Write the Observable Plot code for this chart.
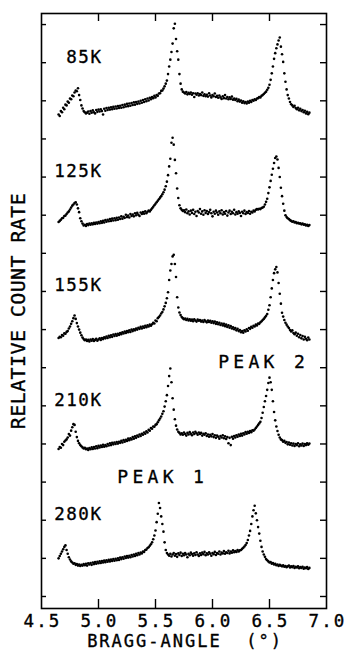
<!DOCTYPE html>
<html>
<head>
<meta charset="utf-8">
<script src="https://cdn.jsdelivr.net/npm/d3@7"></script>
<script src="https://cdn.jsdelivr.net/npm/@observablehq/plot@0.6"></script>
<style>
  html, body { margin: 0; padding: 0; background: #fff; }
  #chart svg { display: block; }
  #chart text { white-space: pre; }
</style>
</head>
<body>
<div id="chart"></div>
<script>
// Bragg angle scan grid (degrees)
const angles = [
4.65,4.66,4.67,4.68,4.69,4.70,4.71,4.72,4.73,4.74,
4.75,4.76,4.77,4.78,4.79,4.80,4.81,4.82,4.83,4.84,
4.85,4.86,4.87,4.88,4.89,4.90,4.91,4.92,4.93,4.94,
4.95,4.96,4.97,4.98,4.99,5.00,5.01,5.02,5.03,5.04,
5.05,5.06,5.07,5.08,5.09,5.10,5.11,5.12,5.13,5.14,
5.15,5.16,5.17,5.18,5.19,5.20,5.21,5.22,5.23,5.24,
5.25,5.26,5.27,5.28,5.29,5.30,5.31,5.32,5.33,5.34,
5.35,5.36,5.37,5.38,5.39,5.40,5.41,5.42,5.43,5.44,
5.45,5.46,5.47,5.48,5.49,5.50,5.51,5.52,5.53,5.54,
5.55,5.56,5.57,5.58,5.59,5.60,5.61,5.62,5.63,5.64,
5.65,5.66,5.67,5.68,5.69,5.70,5.71,5.72,5.73,5.74,
5.75,5.76,5.77,5.78,5.79,5.80,5.81,5.82,5.83,5.84,
5.85,5.86,5.87,5.88,5.89,5.90,5.91,5.92,5.93,5.94,
5.95,5.96,5.97,5.98,5.99,6.00,6.01,6.02,6.03,6.04,
6.05,6.06,6.07,6.08,6.09,6.10,6.11,6.12,6.13,6.14,
6.15,6.16,6.17,6.18,6.19,6.20,6.21,6.22,6.23,6.24,
6.25,6.26,6.27,6.28,6.29,6.30,6.31,6.32,6.33,6.34,
6.35,6.36,6.37,6.38,6.39,6.40,6.41,6.42,6.43,6.44,
6.45,6.46,6.47,6.48,6.49,6.50,6.51,6.52,6.53,6.54,
6.55,6.56,6.57,6.58,6.59,6.60,6.61,6.62,6.63,6.64,
6.65,6.66,6.67,6.68,6.69,6.70,6.71,6.72,6.73,6.74,
6.75,6.76,6.77,6.78,6.79,6.80,6.81,6.82,6.83,6.84,
6.85];

// Relative count rate (above each curve's own baseline level)
const rate85K = [
-0.36,-0.40,-0.27,-0.30,-0.18,-0.22,-0.10,-0.12,-0.02,-0.05,
0.06,0.04,0.14,0.12,0.22,0.27,0.25,0.33,0.15,0.02,
-0.12,-0.20,-0.27,-0.30,-0.33,-0.31,-0.28,-0.34,-0.27,-0.31,
-0.25,-0.30,-0.33,-0.24,-0.29,-0.23,-0.28,-0.22,-0.27,-0.36,
-0.21,-0.26,-0.19,-0.24,-0.18,-0.23,-0.17,-0.22,-0.16,-0.21,
-0.15,-0.20,-0.14,-0.19,-0.13,-0.18,-0.11,-0.17,-0.10,-0.15,
-0.08,-0.14,-0.07,-0.13,-0.06,-0.11,-0.04,-0.10,-0.03,-0.08,
-0.02,-0.07,0.00,-0.05,0.02,-0.03,0.04,-0.01,0.06,0.01,
0.08,0.04,0.10,0.07,0.13,0.09,0.15,0.13,0.19,0.20,
0.26,0.27,0.32,0.38,0.45,0.53,0.70,0.90,1.08,1.28,
1.50,1.90,2.02,1.62,1.30,1.08,0.70,0.45,0.30,0.24,
0.22,0.19,0.23,0.17,0.21,0.18,0.22,0.16,0.20,0.10,
0.19,0.16,0.20,0.14,0.18,0.15,0.22,0.13,0.17,0.12,
0.16,0.11,0.20,0.14,0.09,0.15,0.12,0.19,0.10,0.13,
0.08,0.14,0.09,0.05,0.12,0.07,0.15,0.06,0.10,0.04,
0.09,0.05,0.11,0.03,0.06,0.02,0.05,-0.01,0.03,-0.02,
0.01,-0.05,-0.01,-0.06,-0.03,-0.07,-0.02,-0.05,0.00,-0.03,
0.02,0.00,0.04,0.02,0.06,0.07,0.10,0.09,0.13,0.15,
0.18,0.21,0.24,0.29,0.34,0.42,0.55,0.72,0.90,1.10,
1.25,1.38,1.48,1.58,1.66,1.42,1.22,1.02,0.72,0.50,
0.30,0.15,0.06,-0.03,-0.09,-0.12,-0.16,-0.13,-0.19,-0.22,
-0.18,-0.25,-0.21,-0.27,-0.24,-0.30,-0.26,-0.33,-0.29,-0.35,
-0.31];

const rate125K = [
-0.18,-0.15,-0.12,-0.08,-0.07,-0.02,-0.01,0.03,0.07,0.10,
0.15,0.20,0.25,0.28,0.32,0.34,0.28,0.18,0.08,-0.08,
-0.16,-0.22,-0.27,-0.25,-0.28,-0.23,-0.26,-0.22,-0.25,-0.21,
-0.24,-0.20,-0.23,-0.19,-0.22,-0.18,-0.21,-0.16,-0.20,-0.15,
-0.19,-0.13,-0.17,-0.12,-0.16,-0.10,-0.15,-0.09,-0.14,-0.08,
-0.13,-0.07,-0.12,-0.06,-0.10,-0.03,-0.09,-0.04,-0.07,0.01,
-0.05,-0.01,-0.06,0.03,-0.02,0.02,-0.03,0.05,0.00,0.06,
0.01,-0.02,0.07,0.03,0.08,0.04,0.10,0.05,0.09,0.12,
0.10,0.14,0.18,0.22,0.26,0.30,0.34,0.38,0.42,0.46,
0.50,0.55,0.60,0.67,0.76,0.88,1.05,1.28,1.48,1.90,
2.03,1.85,1.45,1.10,0.70,0.45,0.26,0.18,0.14,0.11,
0.13,0.08,0.15,0.05,0.10,0.02,0.12,0.06,0.14,0.03,
0.09,-0.02,0.11,0.07,0.16,0.04,0.10,0.01,0.13,0.06,
0.11,0.03,0.08,0.14,0.05,-0.03,0.09,0.04,0.12,0.07,
0.01,0.10,0.05,0.13,0.02,0.08,0.04,0.11,-0.01,0.07,
0.12,0.03,0.09,0.05,0.14,0.02,0.08,0.04,0.10,0.06,
-0.02,0.09,0.05,0.12,0.03,0.08,0.06,0.11,0.04,0.09,
0.07,0.12,0.10,0.14,0.16,0.15,0.17,0.16,0.19,0.20,
0.22,0.28,0.35,0.43,0.58,0.73,0.90,1.06,1.22,1.37,
1.50,1.54,1.46,1.24,1.00,0.72,0.50,0.30,0.12,0.00,
-0.05,-0.08,-0.10,-0.13,-0.15,-0.17,-0.16,-0.19,-0.18,-0.21,
-0.20,-0.22,-0.21,-0.24,-0.22,-0.25,-0.24,-0.27,-0.25,-0.28,
-0.26];

const rate155K = [
-0.22,-0.19,-0.20,-0.14,-0.16,-0.10,-0.11,-0.06,-0.04,0.03,
0.08,0.15,0.22,0.30,0.37,0.28,0.17,0.08,0.00,-0.08,
-0.15,-0.21,-0.25,-0.28,-0.26,-0.30,-0.27,-0.31,-0.26,-0.29,
-0.25,-0.30,-0.27,-0.24,-0.29,-0.26,-0.23,-0.27,-0.22,-0.25,
-0.20,-0.23,-0.18,-0.22,-0.16,-0.20,-0.15,-0.19,-0.13,-0.17,
-0.12,-0.16,-0.11,-0.14,-0.09,-0.12,-0.07,-0.10,-0.05,-0.09,
-0.04,-0.07,-0.02,-0.06,0.00,-0.04,0.01,-0.02,0.03,0.00,
0.05,0.02,0.07,0.03,0.08,0.05,0.10,0.06,0.11,0.08,
0.13,0.10,0.14,0.18,0.16,0.24,0.22,0.30,0.33,0.37,
0.42,0.46,0.53,0.61,0.70,0.82,0.98,1.30,1.55,1.72,
1.92,1.96,1.72,1.38,0.85,0.58,0.45,0.38,0.33,0.30,
0.27,0.29,0.25,0.28,0.24,0.27,0.23,0.26,0.22,0.27,
0.24,0.21,0.26,0.23,0.25,0.21,0.24,0.20,0.25,0.22,
0.19,0.24,0.20,0.23,0.18,0.22,0.17,0.21,0.15,0.19,
0.14,0.18,0.12,0.16,0.11,0.15,0.09,0.13,0.07,0.11,
0.05,0.09,0.03,0.06,0.01,0.04,-0.02,0.02,-0.04,-0.01,
-0.07,-0.04,-0.08,-0.02,-0.05,0.01,-0.03,0.04,0.02,0.07,
0.05,0.10,0.08,0.13,0.11,0.16,0.15,0.19,0.22,0.25,
0.28,0.32,0.36,0.41,0.52,0.64,0.85,1.08,1.30,1.48,
1.58,1.64,1.50,1.22,0.94,0.68,0.44,0.34,0.25,0.18,
0.13,0.08,0.04,-0.01,-0.05,-0.02,-0.09,-0.12,-0.08,-0.16,
-0.11,-0.20,-0.14,-0.23,-0.17,-0.26,-0.19,-0.24,-0.28,-0.21,
-0.26];

const rate210K = [
-0.13,-0.08,-0.10,0.00,-0.03,0.06,0.09,0.12,0.17,0.26,
0.22,0.35,0.44,0.52,0.50,0.32,0.18,0.08,0.02,-0.03,
-0.06,-0.09,-0.12,-0.10,-0.14,-0.12,-0.16,-0.11,-0.14,-0.09,
-0.13,-0.08,-0.12,-0.06,-0.11,-0.05,-0.09,-0.04,-0.08,-0.02,
-0.07,-0.03,-0.06,0.00,-0.04,0.02,-0.03,0.03,-0.01,0.04,
0.00,0.05,0.01,0.06,0.03,0.08,0.04,0.10,0.06,0.11,
0.08,0.14,0.10,0.15,0.12,0.18,0.14,0.20,0.16,0.22,
0.19,0.25,0.21,0.27,0.24,0.30,0.27,0.33,0.30,0.37,
0.35,0.42,0.40,0.46,0.45,0.50,0.52,0.57,0.62,0.67,
0.72,0.79,0.86,0.98,1.12,1.28,1.52,1.78,1.98,1.62,
1.20,0.90,0.65,0.48,0.38,0.32,0.29,0.25,0.28,0.24,
0.30,0.26,0.22,0.29,0.25,0.31,0.27,0.23,0.30,0.26,
0.32,0.28,0.24,0.30,0.26,0.29,0.22,0.27,0.24,0.28,
0.21,0.25,0.19,0.24,0.20,0.26,0.18,0.23,0.16,0.22,
0.19,0.14,0.21,0.17,0.23,0.15,0.20,0.13,0.18,0.02,
0.16,-0.03,0.19,0.14,0.21,0.17,0.23,0.19,0.25,0.21,
0.27,0.22,0.28,0.25,0.31,0.27,0.32,0.29,0.34,0.31,
0.36,0.35,0.38,0.42,0.46,0.50,0.54,0.58,0.68,0.82,
0.97,1.12,1.26,1.42,1.60,1.74,1.62,1.42,1.12,0.84,
0.62,0.46,0.34,0.24,0.17,0.12,0.10,0.06,0.08,0.03,
0.05,-0.01,0.04,-0.02,0.02,-0.04,0.01,-0.05,0.00,-0.03,
0.02,-0.06,-0.01,-0.04,0.01,-0.05,0.00,-0.03,0.02,-0.02,
0.01];

const rate280K = [
0.00,0.06,0.12,0.18,0.24,0.30,0.34,0.22,0.12,0.03,
-0.03,-0.08,-0.11,-0.14,-0.13,-0.17,-0.15,-0.19,-0.16,-0.20,
-0.17,-0.19,-0.15,-0.18,-0.14,-0.19,-0.13,-0.16,-0.12,-0.17,
-0.11,-0.15,-0.10,-0.14,-0.09,-0.13,-0.08,-0.12,-0.07,-0.11,
-0.06,-0.10,-0.05,-0.09,-0.04,-0.08,-0.03,-0.07,-0.02,-0.06,
-0.01,-0.05,0.00,-0.04,0.02,-0.02,0.03,-0.01,0.05,0.01,
0.06,0.02,0.07,0.03,0.09,0.05,0.10,0.06,0.12,0.08,
0.14,0.10,0.15,0.13,0.18,0.17,0.22,0.23,0.27,0.29,
0.33,0.37,0.42,0.50,0.60,0.73,0.95,1.17,1.45,1.32,
1.10,0.90,0.70,0.42,0.22,0.14,0.10,0.07,0.12,0.05,
0.10,0.14,0.07,0.11,0.04,0.13,0.09,0.15,0.06,0.12,
0.08,0.14,0.10,0.03,0.12,0.08,0.15,0.11,0.07,0.13,
0.09,0.16,0.10,0.06,0.13,0.09,0.15,0.11,0.17,0.08,
0.13,0.10,0.16,0.12,0.07,0.14,0.11,0.17,0.09,0.14,
0.12,0.18,0.10,0.15,0.13,0.19,0.12,0.16,0.14,0.20,
0.13,0.18,0.15,0.21,0.16,0.19,0.17,0.22,0.18,0.21,
0.22,0.25,0.28,0.31,0.35,0.40,0.48,0.60,0.72,0.90,
1.10,1.26,1.38,1.18,1.00,0.82,0.65,0.46,0.30,0.18,
0.10,0.04,-0.02,-0.05,-0.08,-0.11,-0.10,-0.14,-0.12,-0.16,
-0.14,-0.18,-0.16,-0.20,-0.17,-0.19,-0.21,-0.18,-0.22,-0.20,
-0.23,-0.21,-0.19,-0.24,-0.21,-0.23,-0.20,-0.25,-0.22,-0.24,
-0.21,-0.26,-0.23,-0.25,-0.22,-0.27,-0.24,-0.26,-0.23,-0.28,
-0.25];

const temperatures = [" 85K", "125K", "155K", "210K", "280K"];
const baseLevels = [13, 10, 7, 4, 1];
const rates = [rate85K, rate125K, rate155K, rate210K, rate280K];

const xTicks = [4.5, 5.0, 5.5, 6.0, 6.5, 7.0];
const innerXTicks = [5.0, 5.5, 6.0, 6.5];
const yTicks = [0,1,2,3,4,5,6,7,8,9,10,11,12,13,14,15];

const peakNames = ["PEAK 2", "PEAK 1"];
const peakNameAngles = [6.05, 5.165];
const peakNameLevels = [6.0, 2.97];

// build table
const points = [];
rates.forEach((vals, k) => {
  vals.forEach((v, i) => points.push({angle: angles[i], rate: baseLevels[k] + v}));
});
const tempRows = temperatures.map((t, k) => ({t, level: baseLevels[k] + 1}));
const peakRows = peakNames.map((p, k) => ({p, a: peakNameAngles[k], level: peakNameLevels[k]}));

const W = 346, H = 656, ML = 41, MR = 20, MT = 13, MB = 48;
const innerW = W - ML - MR, innerH = H - MT - MB;
const ink = {fill: "#000", stroke: "#000", strokeWidth: 0.35};

const chart = Plot.plot({
  width: W, height: H,
  marginLeft: ML, marginRight: MR, marginTop: MT, marginBottom: MB,
  x: {domain: [4.5, 7.0], axis: null},
  y: {domain: [-0.315, 15.29], axis: null},
  style: {fontFamily: "'DejaVu Sans Mono', monospace", background: "#fff", color: "#000"},
  marks: [
    Plot.frame({stroke: "#000", strokeWidth: 1.6}),
    Plot.tickX(innerXTicks, {x: d => d, insetTop: innerH - 9, stroke: "#000", strokeWidth: 1.4}),
    Plot.tickX(innerXTicks, {x: d => d, insetBottom: innerH - 8, stroke: "#000", strokeWidth: 1.4}),
    Plot.tickY(yTicks, {y: d => d, insetRight: innerW - 5, stroke: "#000", strokeWidth: 1.4}),
    Plot.tickY(yTicks, {y: d => d, insetLeft: innerW - 6, stroke: "#000", strokeWidth: 1.4}),
    Plot.dot(points, {x: "angle", y: "rate", r: 1.3, fill: "#000", stroke: null}),
    Plot.text(xTicks, {
      x: d => d, frameAnchor: "bottom", dy: 18, dx: 1, lineAnchor: "bottom", textAnchor: "middle",
      text: d => d.toFixed(1), fontSize: 17.5, ...ink
    }),
    Plot.text(["BRAGG-ANGLE  (\u00B0)"], {
      frameAnchor: "bottom", dy: 38, dx: 1, lineAnchor: "bottom", textAnchor: "middle",
      fontSize: 17, ...ink
    }),
    Plot.text(["RELATIVE COUNT RATE"], {
      frameAnchor: "left", dx: -22.5, rotate: -90, textAnchor: "middle",
      fontSize: 20, ...ink
    }),
    Plot.text(tempRows, {
      x: () => 4.612, y: "level", text: "t", textAnchor: "start", lineAnchor: "bottom",
      fontSize: 17.5, ...ink
    }),
    Plot.text(peakRows, {
      x: "a", y: "level", text: "p", textAnchor: "start", lineAnchor: "bottom",
      fontSize: 18, ...ink
    })
  ]
});

// letter spacing of the plotter lettering, set per kind of text
d3.select(chart).selectAll("text").each(function() {
  const t = this.textContent;
  let ls = null;
  if (/^\s?\d+K$/.test(t)) ls = "1.5px";
  else if (/^PEAK/.test(t)) ls = "4.3px";
  else if (/^\d\.\d$/.test(t)) ls = "2.2px";
  else if (/^BRAGG/.test(t)) ls = "2px";
  else if (/^RELATIVE/.test(t)) ls = "0.4px";
  if (ls) d3.select(this).style("letter-spacing", ls);
});

document.getElementById("chart").appendChild(chart);
</script>
</body>
</html>
